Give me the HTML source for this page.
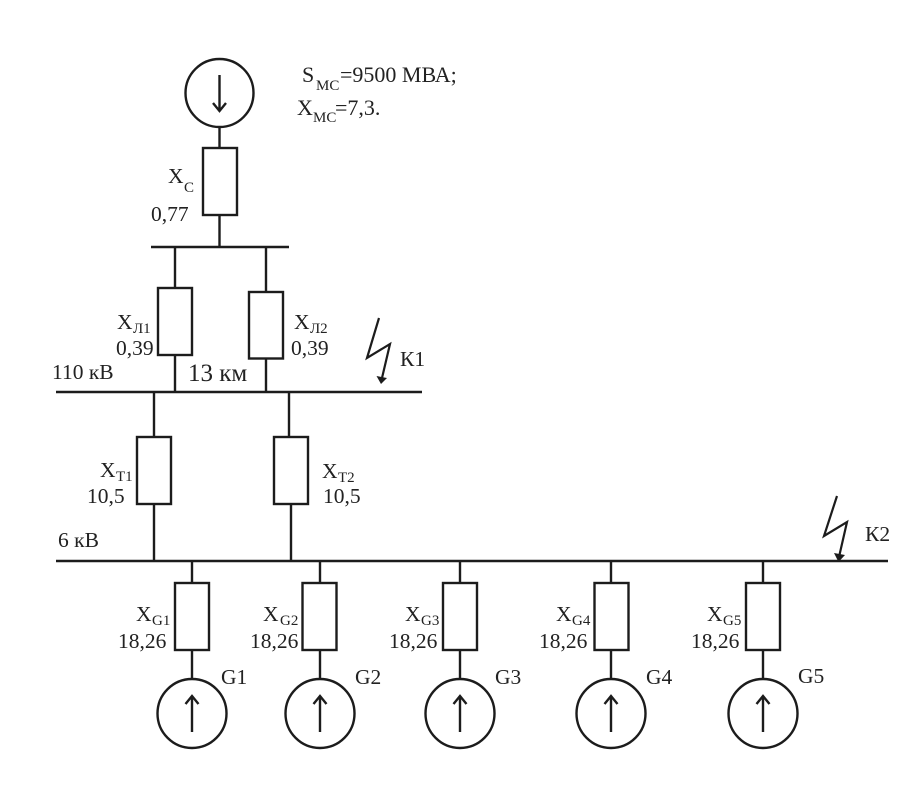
<!DOCTYPE html>
<html><head><meta charset="utf-8"><style>
html,body{margin:0;padding:0;background:#fff;width:913px;height:799px;overflow:hidden}
svg{display:block;filter:blur(.35px)}
text{font-family:"Liberation Serif",serif;font-size:21.5px;fill:#222}
.s{font-size:15px}
.l{stroke:#1c1c1c;stroke-width:2.4;fill:none}
</style></head><body>
<svg width="913" height="799" viewBox="0 0 913 799" xmlns="http://www.w3.org/2000/svg">
<g class="l">
<circle cx="219.5" cy="93" r="34"/>
<path d="M219.5 75V111M213 103L219.5 111L226 103"/>
<path d="M219.5 127V148M219.5 215V247M151 247H289M175 247V288M266 247V292"/>
<rect x="203" y="148" width="34" height="67"/>
<rect x="158" y="288" width="34" height="67"/>
<rect x="249" y="292" width="34" height="66.500"/>
<path d="M175 355V392M266 358.500V392M56 392H422"/>
<path d="M154 392V437M289 392V437M154 504V561M291 504V561"/>
<rect x="137" y="437" width="34" height="67"/>
<rect x="274" y="437" width="34" height="67"/>
<path d="M56 561H888"/>
<path d="M192 561V583M192 650V679M320 561V583M320 650V679M460 561V583M460 650V679M611 561V583M611 650V679M763 561V583M763 650V679"/>
<rect x="175" y="583" width="34" height="67"/>
<rect x="302.500" y="583" width="34" height="67"/>
<rect x="443" y="583" width="34" height="67"/>
<rect x="594.500" y="583" width="34" height="67"/>
<rect x="746" y="583" width="34" height="67"/>
<circle cx="192" cy="713.500" r="34.500"/>
<circle cx="320" cy="713.500" r="34.500"/>
<circle cx="460" cy="713.500" r="34.500"/>
<circle cx="611" cy="713.500" r="34.500"/>
<circle cx="763" cy="713.500" r="34.500"/>
<path d="M192 732V696M185.500 704L192 696L198.500 704"/>
<path d="M320 732V696M313.500 704L320 696L326.500 704"/>
<path d="M460 732V696M453.500 704L460 696L466.500 704"/>
<path d="M611 732V696M604.500 704L611 696L617.500 704"/>
<path d="M763 732V696M756.500 704L763 696L769.500 704"/>
<path d="M379 318L367 358L390 344L382 378" stroke-width="2.200"/>
<path d="M837 496L824 536L847 522L839 557" stroke-width="2.200"/>
</g>
<path d="M376.500 376L387 378L381 384Z" fill="#1c1c1c"/>
<path d="M834 553L845 555L838.500 562Z" fill="#1c1c1c"/>

<text x="302" y="82" style="font-size:22px">S</text><text class="s" x="316" y="90">МС</text><text x="340" y="82" style="font-size:22px">=9500 МВА;</text>
<text x="297" y="115" style="font-size:22px">X</text><text class="s" x="313" y="122">МС</text><text x="335" y="115" style="font-size:22px">=7,3.</text>
<text x="168" y="183">X</text><text class="s" x="184" y="192">С</text>
<text x="151" y="221">0,77</text>
<text x="117" y="329">X</text><text class="s" x="133" y="333">Л1</text>
<text x="116" y="355">0,39</text>
<text x="294" y="329">X</text><text class="s" x="310" y="333">Л2</text>
<text x="291" y="355">0,39</text>
<text x="52" y="379">110 кВ</text>
<text x="188" y="381" style="font-size:25px">13 км</text>
<text x="400" y="366">К1</text>
<text x="100" y="477">X</text><text class="s" x="116" y="481">Т1</text>
<text x="87" y="503">10,5</text>
<text x="322" y="478">X</text><text class="s" x="338" y="482">Т2</text>
<text x="323" y="503">10,5</text>
<text x="58" y="547">6 кВ</text>
<text x="865" y="541">К2</text>

<text x="136" y="621">X</text><text class="s" x="152" y="625">G1</text><text x="118" y="648">18,26</text>
<text x="263" y="621">X</text><text class="s" x="280" y="625">G2</text><text x="250" y="648">18,26</text>
<text x="405" y="621">X</text><text class="s" x="421" y="625">G3</text><text x="389" y="648">18,26</text>
<text x="556" y="621">X</text><text class="s" x="572" y="625">G4</text><text x="539" y="648">18,26</text>
<text x="707" y="621">X</text><text class="s" x="723" y="625">G5</text><text x="691" y="648">18,26</text>

<text x="221" y="684">G1</text>
<text x="355" y="684">G2</text>
<text x="495" y="684">G3</text>
<text x="646" y="684">G4</text>
<text x="798" y="683">G5</text>
</svg>
</body></html>
